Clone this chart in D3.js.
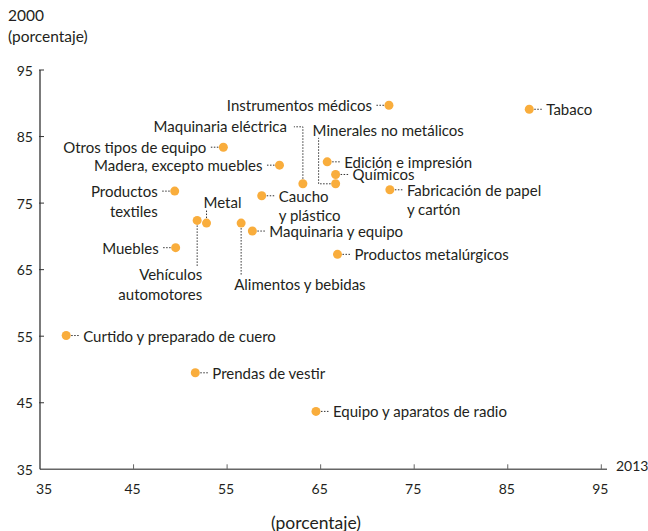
<!DOCTYPE html>
<html>
<head>
<meta charset="utf-8">
<script src="https://cdn.jsdelivr.net/npm/d3@7"></script>
<style>
  body { margin: 0; background: #fff; }
  svg text { font-family: Lato, "Noto Sans", sans-serif; fill: #231f20; }
</style>
</head>
<body>
<svg id="chart" width="648" height="531"></svg>
<script>
// Sector names, share in 2013 (x) and in 2000 (y), in percent
var sectors = [
  "Tabaco", "Instrumentos médicos", "Maquinaria eléctrica", "Minerales no metálicos",
  "Edición e impresión", "Químicos", "Fabricación de papel|y cartón", "Otros tipos de equipo",
  "Madera, excepto muebles", "Caucho|y plástico", "Productos|textiles", "Vehículos|automotores",
  "Metal", "Alimentos y bebidas", "Maquinaria y equipo", "Muebles",
  "Productos metalúrgicos", "Curtido y preparado de cuero", "Prendas de vestir", "Equipo y aparatos de radio"
];
var x2013 = [87.3, 72.3, 63.1, 66.6, 65.7, 66.6, 72.4, 54.6, 60.6, 58.7, 49.4, 51.8, 52.8, 56.5, 57.7, 49.5, 66.8, 37.8, 51.6, 64.5];
var y2000 = [89.1, 89.7, 77.9, 77.9, 81.2, 79.3, 77.0, 83.4, 80.7, 76.1, 76.8, 72.4, 72.0, 72.0, 70.8, 68.3, 67.3, 55.1, 49.5, 43.7];

var xTicks = [35, 45, 55, 65, 75, 85, 95];
var yTicks = [35, 45, 55, 65, 75, 85, 95];

// how each label sits next to its dot: side, and leader path for the elbow ones
var labelStyle = {
  "Instrumentos médicos": { side: "left" },
  "Otros tipos de equipo": { side: "left" },
  "Madera, excepto muebles": { side: "left" },
  "Productos|textiles": { side: "left" },
  "Muebles": { side: "left" },
  "Maquinaria eléctrica": { side: "elbow", path: [[0, -5], [0, -57], [-9, -57]], tx: -16, ty: -58, anchor: "end" },
  "Minerales no metálicos": { side: "elbow", path: [[-5, 0], [-17, 0], [-17, -46]], tx: -23, ty: -54, anchor: "start" },
  "Metal": { side: "elbow", path: [[0, -5], [0, -13]], tx: -3, ty: -21, anchor: "start" },
  "Vehículos|automotores": { side: "elbow", path: [[0, 5], [0, 46]], tx: 5, ty: 54, anchor: "end" },
  "Alimentos y bebidas": { side: "elbow", path: [[0, 5], [0, 53]], tx: -7, ty: 61, anchor: "start" }
};

var svg = d3.select("#chart");

var x = d3.scaleLinear().domain([35, 95]).range([40, 601.3]);
var y = d3.scaleLinear().domain([35, 95]).range([469.3, 70]);

// x axis line and ticks (ticks point up)
svg.append("line")
  .attr("x1", x(35)).attr("x2", 607)
  .attr("y1", y(35)).attr("y2", y(35))
  .style("stroke", "#666").style("stroke-width", 1.5);

svg.selectAll(".xtick")
  .data(xTicks.slice(1))
  .enter()
  .append("line")
  .attr("x1", function (d) { return x(d); })
  .attr("x2", function (d) { return x(d); })
  .attr("y1", y(35))
  .attr("y2", y(35) - 5)
  .style("stroke", "#666");

svg.selectAll(".xlabel")
  .data(xTicks)
  .enter()
  .append("text")
  .attr("x", function (d) { return x(d) + (d === 35 ? 4 : -1); })
  .attr("y", 488)
  .attr("text-anchor", "middle")
  .attr("dominant-baseline", "central")
  .attr("font-size", "14px")
  .text(function (d) { return d; });

// y axis line and ticks (ticks cross the line)
svg.append("line")
  .attr("x1", x(35)).attr("x2", x(35))
  .attr("y1", y(35)).attr("y2", y(95))
  .style("stroke", "#333").style("stroke-width", 1.3);

svg.selectAll(".ytick")
  .data(yTicks.slice(1))
  .enter()
  .append("line")
  .attr("x1", x(35) - 1)
  .attr("x2", x(35) + 4)
  .attr("y1", function (d) { return y(d); })
  .attr("y2", function (d) { return y(d); })
  .style("stroke", "#333");

svg.selectAll(".ylabel")
  .data(yTicks)
  .enter()
  .append("text")
  .attr("x", 33)
  .attr("y", function (d) { return y(d); })
  .attr("text-anchor", "end")
  .attr("dominant-baseline", "central")
  .attr("font-size", "14px")
  .text(function (d) { return d; });

// axis titles
svg.append("text").attr("x", 8).attr("y", 15).attr("dominant-baseline", "central")
  .attr("font-size", "15.5px").text("2000");
svg.append("text").attr("x", 8).attr("y", 36).attr("dominant-baseline", "central")
  .attr("font-size", "15.5px").text("(porcentaje)");
svg.append("text").attr("x", 616).attr("y", 465).attr("dominant-baseline", "central")
  .attr("font-size", "14px").text("2013");
svg.append("text").attr("x", 316).attr("y", 522).attr("text-anchor", "middle").attr("dominant-baseline", "central")
  .attr("font-size", "17.5px").text("(porcentaje)");

var points = sectors.map(function (name, i) {
  return { name: name, x: x2013[i], y: y2000[i], style: labelStyle[name] || { side: "right" } };
});

// leader lines
var line = d3.line();
svg.selectAll(".leader")
  .data(points)
  .enter()
  .append("path")
  .attr("d", function (d) {
    var px = x(d.x), py = y(d.y);
    var pts;
    if (d.style.side === "right") pts = [[5, 0], [14, 0]];
    else if (d.style.side === "left") pts = [[-5, 0], [-14, 0]];
    else pts = d.style.path;
    return line(pts.map(function (p) { return [px + p[0], py + p[1]]; }));
  })
  .style("fill", "none")
  .style("stroke", "#333")
  .style("stroke-width", 1)
  .style("stroke-dasharray", "1.5,1.5");

// dots
svg.selectAll("circle")
  .data(points)
  .enter()
  .append("circle")
  .attr("cx", function (d) { return x(d.x); })
  .attr("cy", function (d) { return y(d.y); })
  .attr("r", 4.5)
  .style("fill", "#f9ad3c");

// labels
var labels = svg.selectAll(".label")
  .data(points)
  .enter()
  .append("text")
  .attr("font-size", "15px")
  .attr("text-anchor", function (d) {
    if (d.style.side === "right") return "start";
    if (d.style.side === "left") return "end";
    return d.style.anchor;
  })
  .attr("transform", function (d) {
    var px = x(d.x), py = y(d.y);
    if (d.style.side === "right") return "translate(" + (px + 17) + "," + py + ")";
    if (d.style.side === "left") return "translate(" + (px - 17) + "," + py + ")";
    return "translate(" + (px + d.style.tx) + "," + (py + d.style.ty) + ")";
  });

labels.each(function (d) {
  var t = d3.select(this);
  d.name.split("|").forEach(function (part, k) {
    t.append("tspan")
      .attr("x", 0)
      .attr("y", k * 19.5)
      .attr("dominant-baseline", "central")
      .text(part);
  });
});
</script>
</body>
</html>
